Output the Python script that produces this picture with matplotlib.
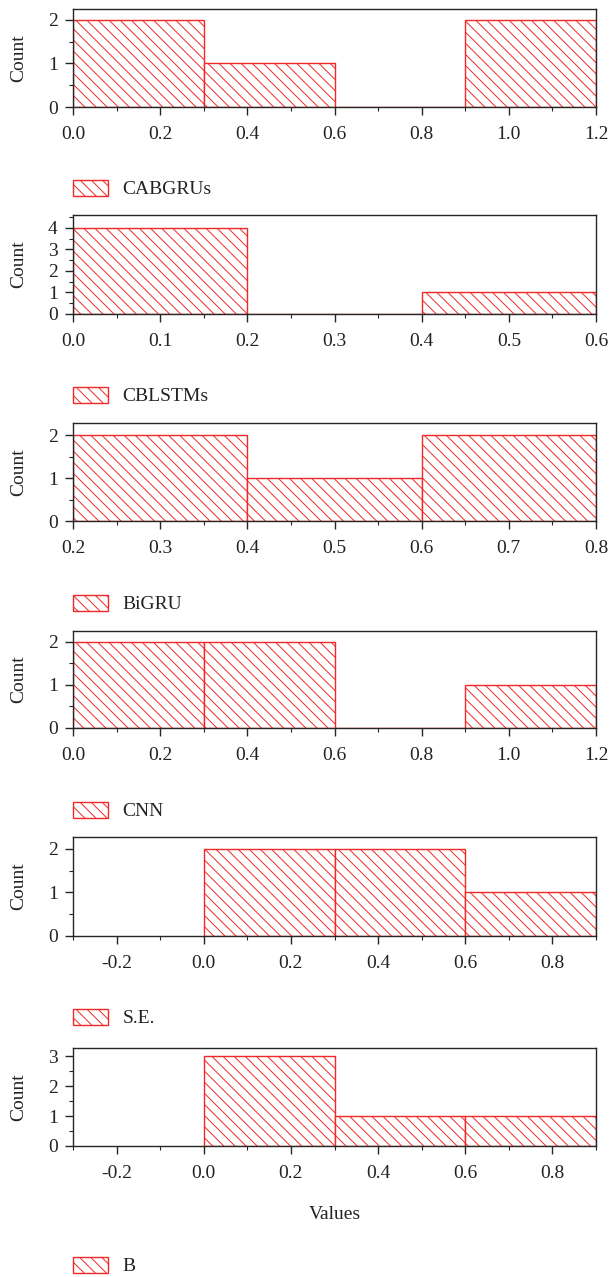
import numpy as np
import matplotlib.pyplot as plt
from matplotlib.ticker import MultipleLocator

plt.rcParams['font.family'] = ['Liberation Serif', 'DejaVu Serif']
plt.rcParams['hatch.linewidth'] = 0.7

RED = '#f02828'
AXIS = '#262626'

# histogram data per model: bin edges and counts
names = ['CABGRUs', 'CBLSTMs', 'BiGRU', 'CNN', 'S.E.', 'B']
edges_cabgrus = [0.0, 0.3, 0.6, 0.9, 1.2]
counts_cabgrus = [2, 1, 0, 2]
edges_cblstms = [0.0, 0.2, 0.4, 0.6]
counts_cblstms = [4, 0, 1]
edges_bigru = [0.2, 0.4, 0.6, 0.8]
counts_bigru = [2, 1, 2]
edges_cnn = [0.0, 0.3, 0.6, 0.9, 1.2]
counts_cnn = [2, 2, 0, 1]
edges_se = [0.0, 0.3, 0.6, 0.9]
counts_se = [2, 2, 1]
edges_b = [0.0, 0.3, 0.6, 0.9]
counts_b = [3, 1, 1]

all_edges = [edges_cabgrus, edges_cblstms, edges_bigru, edges_cnn, edges_se, edges_b]
all_counts = [counts_cabgrus, counts_cblstms, counts_bigru, counts_cnn, counts_se, counts_b]

xlims = [(0, 1.2), (0, 0.6), (0.2, 0.8), (0, 1.2), (-0.3, 0.9), (-0.3, 0.9)]
xmajor = [0.2, 0.1, 0.1, 0.2, 0.2, 0.2]
ytops = [2.25, 4.6, 2.28, 2.25, 2.27, 3.27]

W, H = 609, 1277
# axes top / bottom in pixels, legend centre y in pixels
ax_px = [(9, 107), (215, 314), (423, 521), (631, 728), (837, 936), (1048, 1146)]
leg_y = [189, 396, 604, 811, 1018, 1266]
left, right = 73, 596

fig = plt.figure(figsize=(W / 100, H / 100), dpi=100)

for i in range(6):
    top, bot = ax_px[i]
    ax = fig.add_axes([left / W, 1 - bot / H, (right - left) / W, (bot - top) / H])
    e = np.array(all_edges[i])
    c = np.array(all_counts[i])
    ax.bar(e[:-1], c, width=np.diff(e), align='edge', facecolor='white',
           edgecolor=RED, hatch='\\\\\\', linewidth=1.0, label=names[i], zorder=2)
    ax.set_xlim(*xlims[i])
    ax.set_ylim(0, ytops[i])
    ax.xaxis.set_major_locator(MultipleLocator(xmajor[i]))
    ax.xaxis.set_minor_locator(MultipleLocator(xmajor[i] / 2))
    ax.yaxis.set_major_locator(MultipleLocator(1))
    ax.yaxis.set_minor_locator(MultipleLocator(0.5))
    ax.xaxis.set_major_formatter(plt.FuncFormatter(lambda v, p: '%.1f' % v))
    for s in ax.spines.values():
        s.set_color(AXIS)
        s.set_linewidth(1.0)
    ax.tick_params(which='both', direction='out', color=AXIS, labelsize=14,
                   labelcolor='#222222', top=False, right=False)
    ax.tick_params(which='major', length=6, width=1.0)
    ax.tick_params(which='minor', length=3, width=0.8)
    ax.tick_params(axis='x', pad=8)
    ax.tick_params(axis='y', pad=5)
    ax.set_ylabel('Count', fontsize=14, color='#222222')
    ax.yaxis.set_label_coords(-0.087, 0.5)
    if i == 5:
        ax.set_xlabel('Values', fontsize=14, color='#222222', labelpad=17)
    leg = ax.legend(loc='center left', bbox_to_anchor=(left / W, 1 - leg_y[i] / H),
                    bbox_transform=fig.transFigure, frameon=False, fontsize=14,
                    handlelength=1.8, handleheight=0.9, handletextpad=0.75,
                    borderpad=0, borderaxespad=0)
    for t in leg.get_texts():
        t.set_color('#222222')

fig.savefig('out.png', dpi=100)
